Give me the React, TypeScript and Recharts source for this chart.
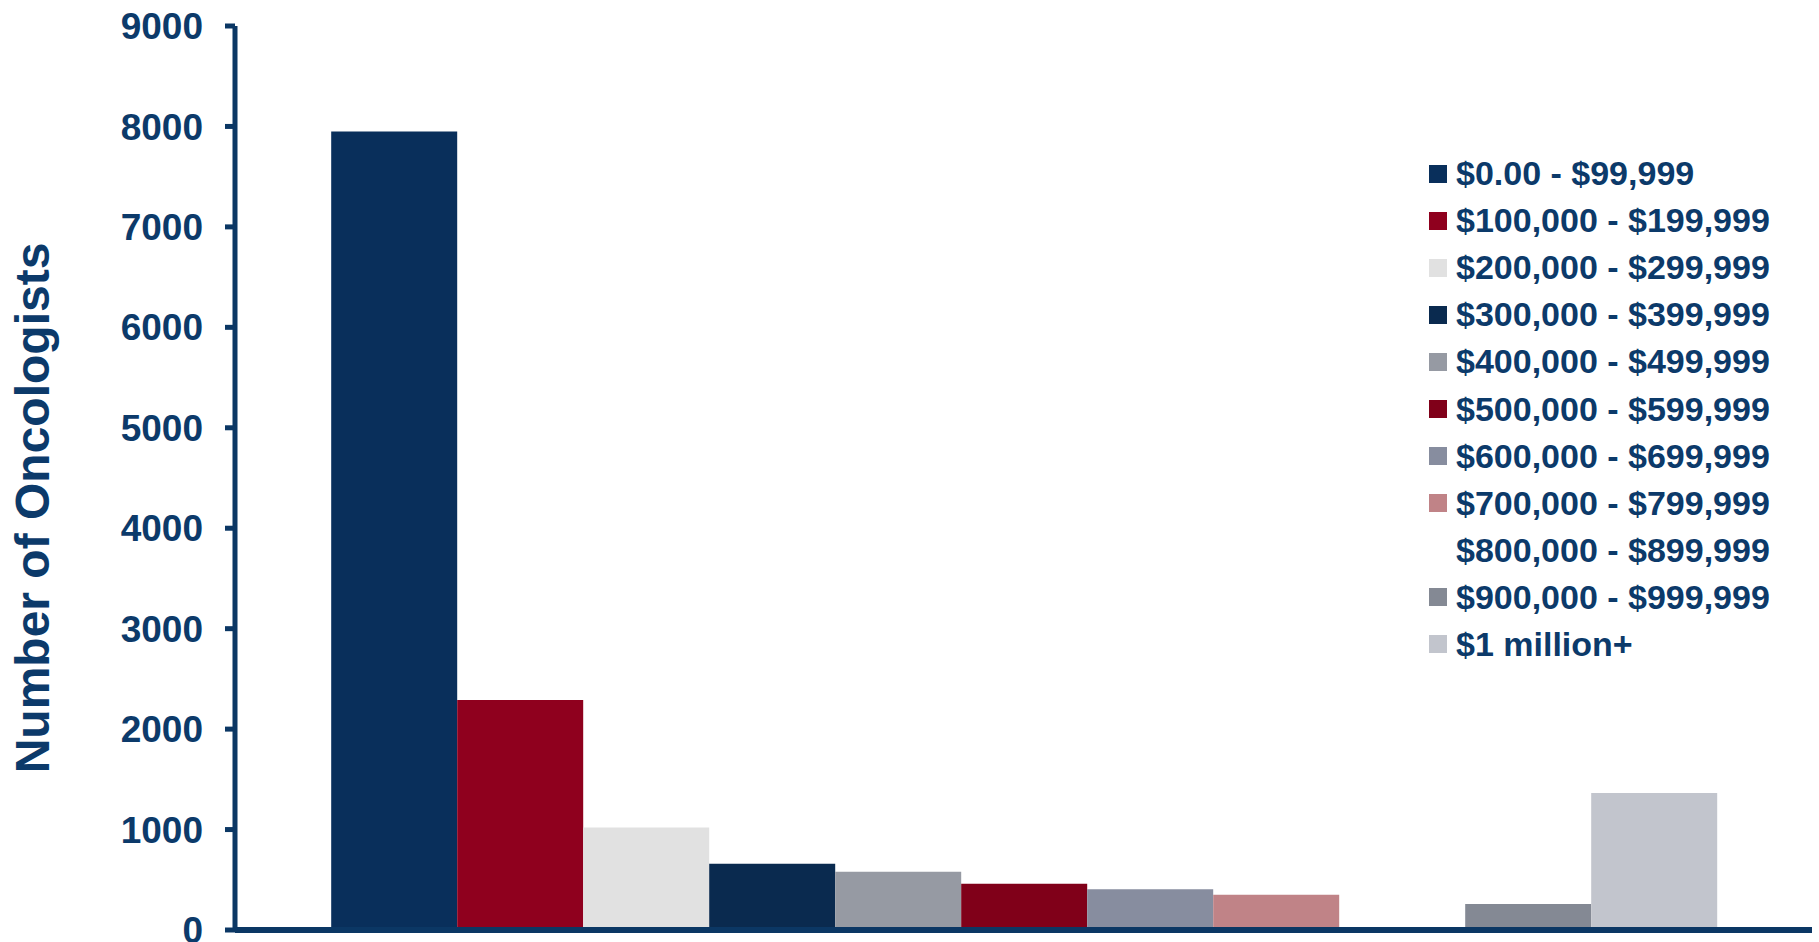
import { BarChart, Bar, XAxis, YAxis, Legend, Label } from 'recharts'

const brackets = [
  '$0.00 - $99,999',
  '$100,000 - $199,999',
  '$200,000 - $299,999',
  '$300,000 - $399,999',
  '$400,000 - $499,999',
  '$500,000 - $599,999',
  '$600,000 - $699,999',
  '$700,000 - $799,999',
  '$800,000 - $899,999',
  '$900,000 - $999,999',
  '$1 million+',
]

const oncologists = [7950, 2290, 1020, 660, 580, 460, 405, 350, 0, 260, 1365]

const barColors = [
  '#092F5B', '#8F001E', '#E1E1E1', '#0A2A4F', '#969AA3', '#800019',
  '#878D9F', '#C08387', '#FFFFFF', '#848994', '#C2C5CD',
]

const yTicks = [0, 1000, 2000, 3000, 4000, 5000, 6000, 7000, 8000, 9000]

const navy = '#0C3A6A'
const axisColor = '#0B3764'
const font = '"Liberation Sans", Arial, sans-serif'

// one category, one key per income bracket
const row: Record<string, string | number> = { name: '' }
brackets.forEach((b, i) => {
  row['s' + i] = oncologists[i]
})
const data = [row]

function LegendList({ payload }: any) {
  // keep the bracket order, not the alphabetical one
  const items = [...(payload || [])].sort(
    (a: any, b: any) => brackets.indexOf(a.value) - brackets.indexOf(b.value)
  )
  return (
    <div style={{ fontFamily: font, fontWeight: 'bold', fontSize: 34, color: navy }}>
      {items.map((p: any) => (
        <div key={p.value} style={{ display: 'flex', alignItems: 'center', height: 47.1, whiteSpace: 'nowrap' }}>
          <span style={{ width: 18, height: 18, background: p.color, marginRight: 9, flex: 'none' }} />
          <span>{p.value}</span>
        </div>
      ))}
    </div>
  )
}

function YTitle() {
  return (
    <text
      x={49}
      y={508}
      transform="rotate(-90, 49, 508)"
      textAnchor="middle"
      fill={navy}
      fontFamily={font}
      fontWeight="bold"
      fontSize={48}
    >
      Number of Oncologists
    </text>
  )
}

export default function App() {
  return (
    <div style={{ position: 'absolute', left: 0, top: 0, background: '#fff' }}>
      <BarChart
        width={1819}
        height={942}
        data={data}
        margin={{ top: 26, right: 7, bottom: 0, left: 0 }}
        barCategoryGap="6.1%"
        barGap={0}
      >
        <XAxis
          dataKey="name"
          height={12}
          tick={false}
          tickLine={false}
          axisLine={{ stroke: axisColor, strokeWidth: 6 }}
        />
        <YAxis
          width={235}
          domain={[0, 9000]}
          ticks={yTicks}
          interval={0}
          tickSize={10}
          tickMargin={22}
          axisLine={{ stroke: axisColor, strokeWidth: 5 }}
          tickLine={{ stroke: axisColor, strokeWidth: 5 }}
          tick={{ fill: navy, fontSize: 37, fontWeight: 'bold', fontFamily: font }}
        >
          <Label content={<YTitle />} />
        </YAxis>
        <Legend
          layout="horizontal"
          verticalAlign="middle"
          align="center"
          content={<LegendList />}
          wrapperStyle={{ left: 1429, top: 150, width: 390, height: 'auto' }}
        />
        {brackets.map((b, i) => (
          <Bar key={b} dataKey={'s' + i} name={b} fill={barColors[i]} isAnimationActive={false} />
        ))}
      </BarChart>
    </div>
  )
}
